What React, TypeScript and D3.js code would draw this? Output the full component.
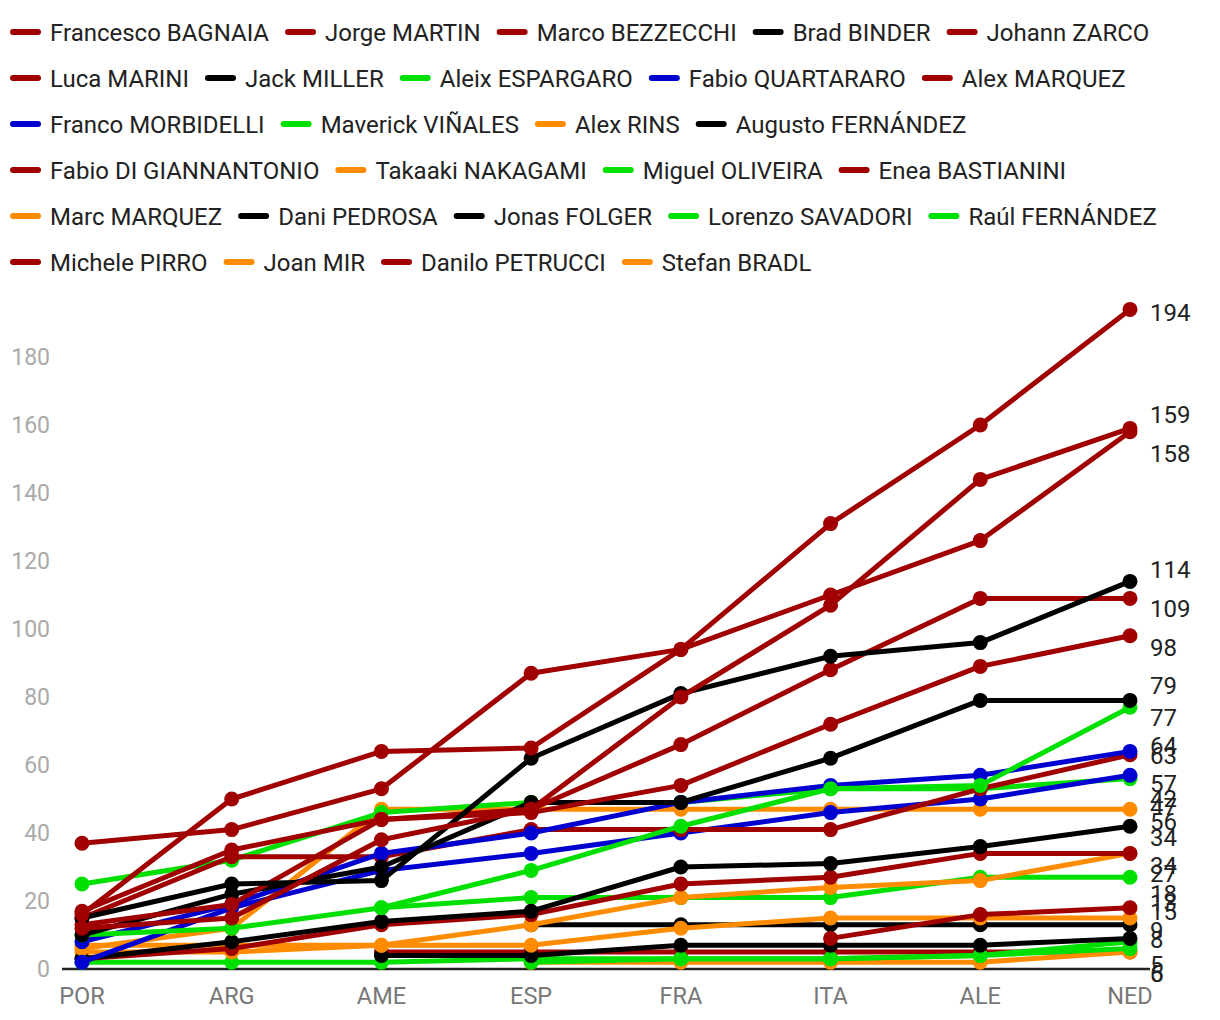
import React, { useMemo } from 'react';
import * as d3 from 'd3';

// ---------- data ----------
const rounds = ['POR', 'ARG', 'AME', 'ESP', 'FRA', 'ITA', 'ALE', 'NED'];
const yTicks = [0, 20, 40, 60, 80, 100, 120, 140, 160, 180];

const riderNames = [
  'Francesco BAGNAIA', 'Jorge MARTIN', 'Marco BEZZECCHI', 'Brad BINDER', 'Johann ZARCO',
  'Luca MARINI', 'Jack MILLER', 'Aleix ESPARGARO', 'Fabio QUARTARARO', 'Alex MARQUEZ',
  'Franco MORBIDELLI', 'Maverick VIÑALES', 'Alex RINS', 'Augusto FERNÁNDEZ',
  'Fabio DI GIANNANTONIO', 'Takaaki NAKAGAMI', 'Miguel OLIVEIRA', 'Enea BASTIANINI',
  'Marc MARQUEZ', 'Dani PEDROSA', 'Jonas FOLGER', 'Lorenzo SAVADORI', 'Raúl FERNÁNDEZ',
  'Michele PIRRO', 'Joan MIR', 'Danilo PETRUCCI', 'Stefan BRADL',
];
const riderMakes = [
  'Ducati', 'Ducati', 'Ducati', 'KTM', 'Ducati',
  'Ducati', 'KTM', 'Aprilia', 'Yamaha', 'Ducati',
  'Yamaha', 'Aprilia', 'Honda', 'KTM',
  'Ducati', 'Honda', 'Aprilia', 'Ducati',
  'Honda', 'KTM', 'KTM', 'Aprilia', 'Aprilia',
  'Ducati', 'Honda', 'Ducati', 'Honda',
];

const N = null;
const bagnaia = [37, 41, 53, 87, 94, 131, 160, 194];
const martin = [12, 15, 38, 47, 80, 107, 144, 159];
const bezzecchi = [16, 50, 64, 65, 94, 110, 126, 158];
const binder = [15, 25, 26, 62, 81, 92, 96, 114];
const zarco = [17, 35, 44, 47, 66, 88, 109, 109];
const marini = [13, 19, 44, 46, 54, 72, 89, 98];
const miller = [10, 22, 30, 49, 49, 62, 79, 79];
const aleixEspargaro = [10, 12, 18, 29, 42, 53, 54, 77];
const quartararo = [8, 19, 34, 40, 49, 54, 57, 64];
const alexMarquez = [15, 33, 33, 41, 41, 41, 53, 63];
const morbidelli = [2, 18, 29, 34, 40, 46, 50, 57];
const vinales = [25, 32, 46, 49, 49, 53, 53, 56];
const rins = [6, 12, 47, 47, 47, 47, 47, 47];
const augustoFernandez = [3, 8, 14, 17, 30, 31, 36, 42];
const diGiannantonio = [3, 6, 13, 16, 25, 27, 34, 34];
const nakagami = [5, 5, 7, 13, 21, 24, 26, 34];
const oliveira = [N, N, 18, 21, 21, 21, 27, 27];
const bastianini = [N, N, N, N, N, 9, 16, 18];
const marcMarquez = [7, 7, 7, 7, 12, 15, 15, 15];
const pedrosa = [N, N, N, 13, 13, 13, 13, 13];
const folger = [N, N, 4, 4, 7, 7, 7, 9];
const savadori = [N, N, N, 2, 3, 3, 4, 6];
const raulFernandez = [2, 2, 2, 3, 3, 3, 4, 8];
const pirro: (number | null)[] = [N, N, N, N, N, N, N, N];
const mir = [N, N, N, 2, 2, 2, 2, 5];
const petrucci = [N, N, 5, 5, 5, 5, 5, 5];
const bradl: (number | null)[] = [N, N, N, N, N, N, N, N];

const riderPoints = [
  bagnaia, martin, bezzecchi, binder, zarco, marini, miller, aleixEspargaro, quartararo,
  alexMarquez, morbidelli, vinales, rins, augustoFernandez, diGiannantonio, nakagami,
  oliveira, bastianini, marcMarquez, pedrosa, folger, savadori, raulFernandez, pirro, mir,
  petrucci, bradl,
];

const makeColors: Record<string, string> = {
  Ducati: '#a00000',
  KTM: '#000000',
  Aprilia: '#00e000',
  Yamaha: '#0000d0',
  Honda: '#ff8c00',
};

const FONT = 'Roboto, "Noto Sans", sans-serif';

function measure(text: string, size: number) {
  const c = document.createElement('canvas').getContext('2d')!;
  c.font = `${size}px Roboto`;
  return c.measureText(text).width;
}

export default function App() {
  const W = 1220;
  const H = 1020;

  const x = d3.scalePoint<string>().domain(rounds).range([82, 1130]);
  const y = d3.scaleLinear().domain([0, 180]).range([969, 357]);

  const series = riderNames.map((name, i) => ({
    name,
    color: makeColors[riderMakes[i]],
    values: riderPoints[i],
  }));

  // legend flow layout
  const legend = useMemo(() => {
    const items: { name: string; color: string; x: number; row: number }[] = [];
    let cx = 10;
    let row = 0;
    series.forEach((s) => {
      const w = 40 + measure(s.name, 24);
      if (cx + w > 1215) {
        row += 1;
        cx = 10;
      }
      items.push({ name: s.name, color: s.color, x: cx, row });
      cx += w + 16;
    });
    return items;
  }, []);

  const line = d3
    .line<number | null>()
    .defined((d) => d != null)
    .x((_, i) => x(rounds[i])!)
    .y((d) => y(d as number));

  // end labels, spread with a 2D force layout (only y is used), kept above the bottom edge
  const labels = useMemo(() => {
    const nodes: any[] = [];
    series.forEach((s) => {
      const last = s.values[s.values.length - 1];
      if (last != null) {
        nodes.push({ text: String(last), target: y(last), x: 0, y: y(last) });
      }
    });
    const bottom = 970;
    const sim = d3
      .forceSimulation(nodes)
      .force('x', d3.forceX(0).strength(0.1))
      .force('y', d3.forceY((d: any) => d.target).strength(0.075))
      .force('collide', d3.forceCollide(19.5))
      .stop();
    for (let i = 0; i < 300; i++) {
      sim.tick();
      nodes.forEach((n) => {
        if (n.y > bottom) {
          n.y = bottom;
          if (n.vy > 0) n.vy = 0;
        }
      });
    }
    return nodes;
  }, []);

  const drawOrder = series.map((_, i) => i).reverse();

  return (
    <svg
      width={W}
      height={H}
      style={{ position: 'absolute', left: 0, top: 0, background: '#fff' }}
      fontFamily={FONT}
    >
      {/* legend */}
      <g>
        {legend.map((it) => {
          const cy = 32 + it.row * 46;
          return (
            <g key={it.name}>
              <line
                x1={it.x + 3}
                x2={it.x + 28}
                y1={cy}
                y2={cy}
                stroke={it.color}
                strokeWidth={6}
                strokeLinecap="round"
              />
              <text x={it.x + 40} y={cy + 8.5} fontSize={24} fill="#222">
                {it.name}
              </text>
            </g>
          );
        })}
      </g>

      {/* y tick labels */}
      <g>
        {yTicks.map((t) => (
          <text key={t} x={50} y={y(t) + 8} fontSize={23} fill="#aaa" textAnchor="end">
            {t}
          </text>
        ))}
      </g>

      {/* x axis */}
      <line x1={x('POR')! - 20} x2={x('NED')! + 20} y1={y(0)} y2={y(0)} stroke="#222" strokeWidth={2.5} />
      <g>
        {rounds.map((r) => (
          <text key={r} x={x(r)} y={1004} fontSize={23.5} fill="#777" textAnchor="middle">
            {r}
          </text>
        ))}
      </g>

      {/* series */}
      <g>
        {drawOrder.map((i) => {
          const s = series[i];
          return (
            <g key={s.name}>
              <path d={line(s.values) || ''} fill="none" stroke={s.color} strokeWidth={5} strokeLinejoin="round" />
              {s.values.map((v, j) =>
                v == null ? null : (
                  <circle key={j} cx={x(rounds[j])} cy={y(v)} r={7.5} fill={s.color} />
                )
              )}
            </g>
          );
        })}
      </g>

      {/* end labels */}
      <g>
        {labels.map((n, i) => (
          <text key={i} x={1150} y={n.y + 12} fontSize={24} fill="#222">
            {n.text}
          </text>
        ))}
      </g>
    </svg>
  );
}
